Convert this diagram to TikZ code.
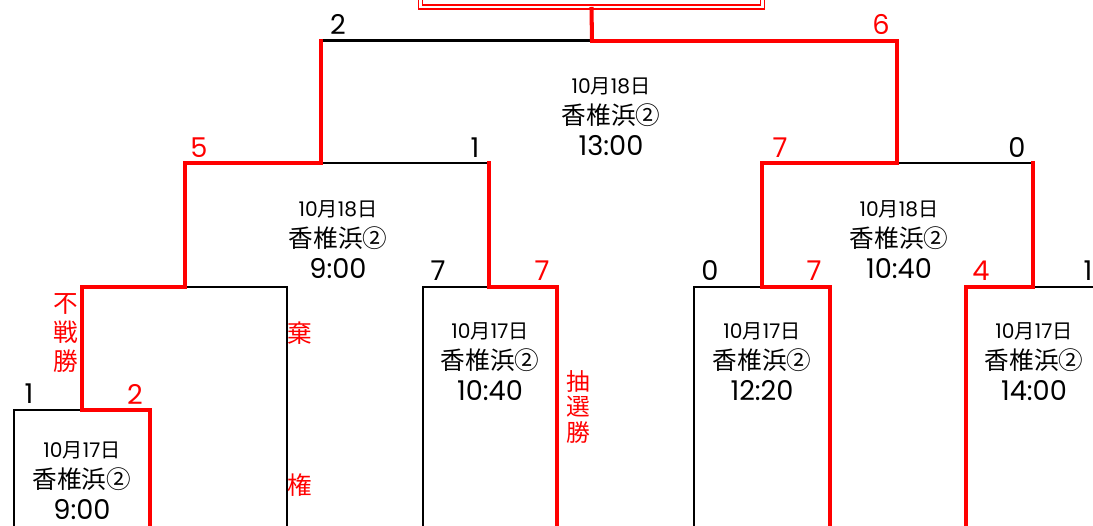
\documentclass[tikz,border=0pt]{standalone}
\usepackage{fontspec}
\newfontfamily\jp{Noto Sans CJK JP}
\newfontfamily\num{Poppins}
\usetikzlibrary{positioning}
\newcommand{\mdate}[1]{{\fontsize{11.5}{17.6}\selectfont{\num 10}月{\num #1}日}}
\newcommand{\mtime}[1]{{\fontsize{15.5}{17.6}\selectfont\num #1}}

\begin{document}
\begin{tikzpicture}[
  x=0.02cm, y=-0.02cm,
  lose/.style={draw=black, line width=1.7pt, line join=miter, line cap=rect},
  win/.style={draw=red, line width=2.3pt, line join=miter, line cap=rect},
  info/.style={align=center, inner sep=0pt, font=\jp\fontsize{14}{17.6}\selectfont},
  score/.style={inner sep=0pt, font=\num\fontsize{15.5}{15.5}\selectfont},
  wscore/.style={score, text=red},
  note/.style={align=center, inner sep=0pt, text=red, font=\jp\fontsize{14}{16.7}\selectfont},
  titlebox/.style={draw=red, double=white, double distance=0.05cm, line width=0.85pt,
                   minimum width=6.84cm, minimum height=0.94cm, inner sep=0pt, outer sep=0pt}
]
  \useasboundingbox (0,0) rectangle (1093,526);
  % 決勝
  \node[titlebox] (title) at (591.5,-16.5) {};
  \coordinate (bot) at (0,526);
  \coordinate (fL) at (321,41);
  \coordinate (fM) at (592,41);
  \coordinate (fR) at (897,41);
  % 準決勝
  \coordinate (sLa) at (185,163);
  \coordinate (sLb) at (321,163);
  \coordinate (sLc) at (489,163);
  \coordinate (sRa) at (762,163);
  \coordinate (sRb) at (897,163);
  \coordinate (sRc) at (1033,163);
  % 準々決勝
  \coordinate (qAa) at (82,287);
  \coordinate (qAb) at (185,287);
  \coordinate (qAc) at (287,287);
  \coordinate (qBa) at (423,287);
  \coordinate (qBb) at (489,287);
  \coordinate (qBc) at (557,287);
  \coordinate (qCa) at (694,287);
  \coordinate (qCb) at (762,287);
  \coordinate (qCc) at (830,287);
  \coordinate (qDa) at (966,287);
  \coordinate (qDb) at (1033,287);
  \coordinate (qDc) at (1093,287);
  % 1回戦
  \coordinate (rAa) at (14,410);
  \coordinate (rAb) at (82,410);
  \coordinate (rAc) at (150,410);
  % 黒線
  \draw[lose] (fL) -- (fM);
  \draw[lose] (sLb) -- (sLc);
  \draw[lose] (sRb) -- (sRc);
  \draw[lose] (qAb) -- (qAc) -- (qAc |- bot);
  \draw[lose] (qBb) -- (qBa) -- (qBa |- bot);
  \draw[lose] (qCb) -- (qCa) -- (qCa |- bot);
  \draw[lose] (qDb) -- (qDc);
  \draw[lose] (rAb) -- (rAa) -- (rAa |- bot);
  % 勝ち上がり
  \draw[win, line cap=butt] (title.south) -- (fM);
  \draw[win] (fM) -- (fR) -- (sRb) -- (sRa) -- (qCb) -- (qCc) -- (qCc |- bot);
  \draw[win] (fL) -- (sLb) -- (sLa) -- (qAb) -- (qAa) -- (rAb) -- (rAc) -- (rAc |- bot);
  \draw[win] (sLc) -- (qBb) -- (qBc) -- (qBc |- bot);
  \draw[win] (sRc) -- (qDb) -- (qDa) -- (qDa |- bot);
  % 日程
  \node[info] (mF) at (611,117) {\mdate{18}\\香椎浜②\\\mtime{13:00}};
  \node[info] (mSL) at (338,240) {\mdate{18}\\香椎浜②\\\mtime{9:00}};
  \node[info] (mSR) at (899,240) {\mdate{18}\\香椎浜②\\\mtime{10:40}};
  \node[info] (mQB) at (490,362) {\mdate{17}\\香椎浜②\\\mtime{10:40}};
  \node[info] (mQC) at (762,362) {\mdate{17}\\香椎浜②\\\mtime{12:20}};
  \node[info] (mQD) at (1034,362) {\mdate{17}\\香椎浜②\\\mtime{14:00}};
  \node[info] (mRA) at (82,481) {\mdate{17}\\香椎浜②\\\mtime{9:00}};
  % 得点
  \node[score] (pF1) at (338,24) {2};
  \node[wscore] (pF2) at (881,24) {6};
  \node[wscore] (pS1) at (199,148) {5};
  \node[score] (pS2) at (475,148) {1};
  \node[wscore] (pS3) at (780,148) {7};
  \node[score] (pS4) at (1017,148) {0};
  \node[score] (pQ1) at (438,271) {7};
  \node[wscore] (pQ2) at (542,271) {7};
  \node[score] (pQ3) at (710,271) {0};
  \node[wscore] (pQ4) at (814,271) {7};
  \node[wscore] (pQ5) at (981,271) {4};
  \node[score] (pQ6) at (1088,271) {1};
  \node[score] (pR1) at (29,394) {1};
  \node[wscore] (pR2) at (135,394) {2};
  % 注記
  \node[note] (fusen) at (66,333) {不\\戦\\勝};
  \node[note] (kiA) at (300,333) {棄};
  \node[note] (kiB) at (300,485) {権};
  \node[note, font=\jp\fontsize{13.5}{14.7}\selectfont] (chusen) at (578,407) {抽\\選\\勝};
\end{tikzpicture}
\end{document}
